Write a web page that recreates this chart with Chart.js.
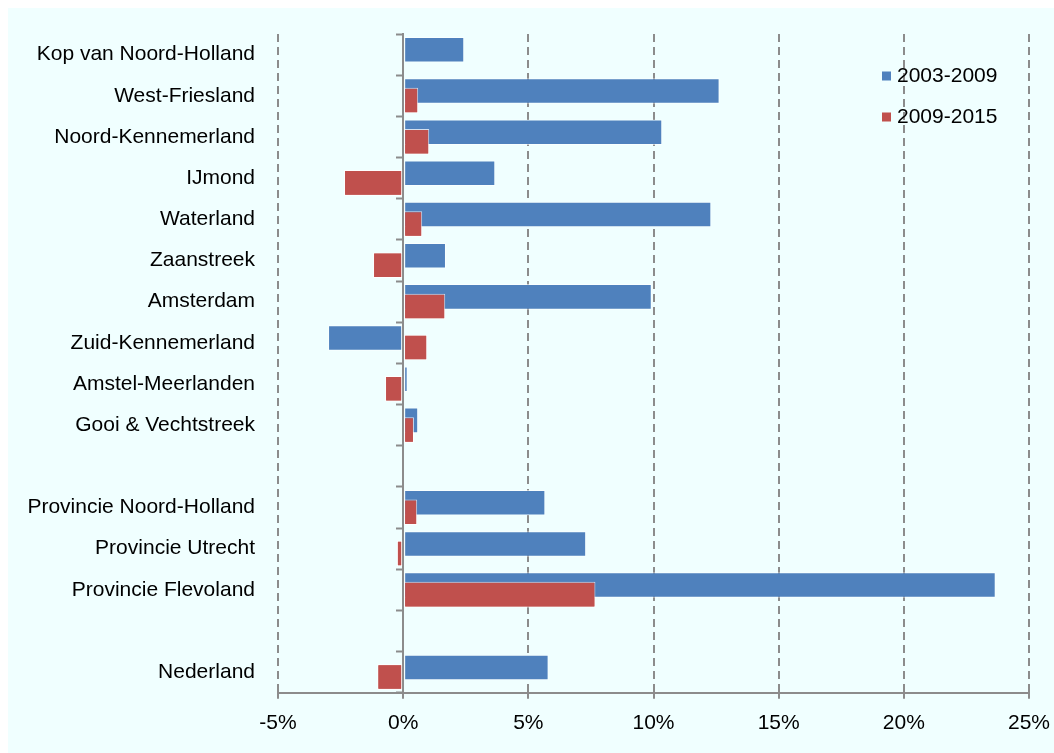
<!DOCTYPE html>
<html>
<head>
<meta charset="utf-8">
<title>Groei per regio</title>
<script src="https://cdn.jsdelivr.net/npm/chart.js@4.4.1/dist/chart.umd.min.js"></script>
<style>
html, body { margin: 0; padding: 0; background: #fff; }
#wrap { width: 1054px; height: 753px; position: relative; }
</style>
</head>
<body>
<div id="wrap"><canvas id="growthChart"></canvas></div>
<script>
// regions, empty strings are the gaps between the groups
var regions = [
    'Kop van Noord-Holland', 'West-Friesland', 'Noord-Kennemerland', 'IJmond',
    'Waterland', 'Zaanstreek', 'Amsterdam', 'Zuid-Kennemerland',
    'Amstel-Meerlanden', 'Gooi & Vechtstreek', '',
    'Provincie Noord-Holland', 'Provincie Utrecht', 'Provincie Flevoland', '',
    'Nederland'
];
var growth0309 = [2.44, 12.64, 10.35, 3.68, 12.31, 1.71, 9.93, -3.0, 0.18, 0.6, null, 5.68, 7.31, 23.67, null, 5.81];
var growth0915 = [0, 0.6, 1.04, -2.36, 0.76, -1.2, 1.68, 0.96, -0.72, 0.43, null, 0.56, -0.25, 7.68, null, -1.03];
var seriesLabels = ['2003-2009', '2009-2015'];
var xMin = -5, xMax = 25, xStep = 5;

var gridGrey = '#8c8c8c';
Chart.defaults.font.family = '"Liberation Sans", Arial, sans-serif';
Chart.defaults.color = '#000';

// pale background panel
var backgroundPlugin = {
    id: 'panelBg',
    beforeDraw: function(chart) {
        var ctx = chart.ctx;
        ctx.save();
        ctx.fillStyle = '#f0ffff';
        ctx.fillRect(8, 8, chart.width - 8, chart.height - 8);
        ctx.restore();
    }
};

// red bars sit on top of the blue ones
var redOnTopPlugin = {
    id: 'redOnTop',
    afterDatasetsDraw: function(chart) {
        chart.getDatasetMeta(1).controller.draw();
    }
};

var legendPlugin = {
    id: 'insideLegend',
    afterDraw: function(chart) {
        var ctx = chart.ctx;
        ctx.save();
        ctx.font = '21px "Liberation Sans", Arial, sans-serif';
        ctx.textBaseline = 'middle';
        chart.data.datasets.forEach(function(ds, i) {
            var y = 76 + i * 41;
            ctx.fillStyle = ds.backgroundColor;
            ctx.fillRect(882, y - 4.5, 9, 9);
            ctx.fillStyle = '#000';
            ctx.fillText(ds.label, 897, y);
        });
        ctx.restore();
    }
};

var growthChart = new Chart(document.getElementById('growthChart'), {
    type: 'bar',
    data: {
        labels: regions,
        datasets: [{
            label: seriesLabels[0],
            data: growth0309,
            backgroundColor: '#4f81bd',
            borderColor: 'rgba(255,255,255,0.6)',
            borderWidth: 1,
            borderSkipped: false,
            categoryPercentage: 0.463,
            barPercentage: 2.68
        },
        {
            label: seriesLabels[1],
            data: growth0915,
            backgroundColor: '#c0504d',
            borderColor: 'rgba(255,255,255,0.75)',
            borderWidth: 1,
            borderSkipped: false,
            categoryPercentage: 0.463,
            barPercentage: 2.68
        }]
    },
    options: {
        indexAxis: 'y',
        responsive: true,
        maintainAspectRatio: false,
        animation: false,
        layout: { padding: { top: 34, right: 4, bottom: 5, left: 0 } },
        plugins: {
            legend: { display: false },
            tooltip: { enabled: false }
        },
        scales: {
            x: {
                type: 'linear',
                min: xMin,
                max: xMax,
                ticks: {
                    stepSize: xStep,
                    padding: 12,
                    font: { size: 21 },
                    callback: function(v) { return v + '%'; }
                },
                grid: {
                    color: function(ctx) {
                        return ctx.tick && ctx.tick.value === 0 ? 'rgba(0,0,0,0)' : gridGrey;
                    },
                    lineWidth: 2,
                    tickLength: 6,
                    tickWidth: 2,
                    tickColor: gridGrey
                },
                border: { color: gridGrey, width: 2, dash: [8, 5] },
                afterFit: function(scale) { scale.paddingRight = 25; }
            },
            y: {
                type: 'category',
                grid: { display: false },
                border: { display: false },
                ticks: { autoSkip: false, padding: 15, font: { size: 21 } },
                afterFit: function(scale) { scale.width = 278; }
            },
            // zero line with the category tick marks
            yZero: {
                type: 'category',
                labels: regions,
                position: { x: 0 },
                offset: true,
                grid: {
                    drawOnChartArea: false,
                    offset: true,
                    tickLength: 6,
                    tickWidth: 2,
                    tickColor: gridGrey,
                    color: gridGrey
                },
                border: { color: gridGrey, width: 2 },
                ticks: { display: false }
            }
        }
    },
    plugins: [backgroundPlugin, redOnTopPlugin, legendPlugin]
});
</script>
</body>
</html>
